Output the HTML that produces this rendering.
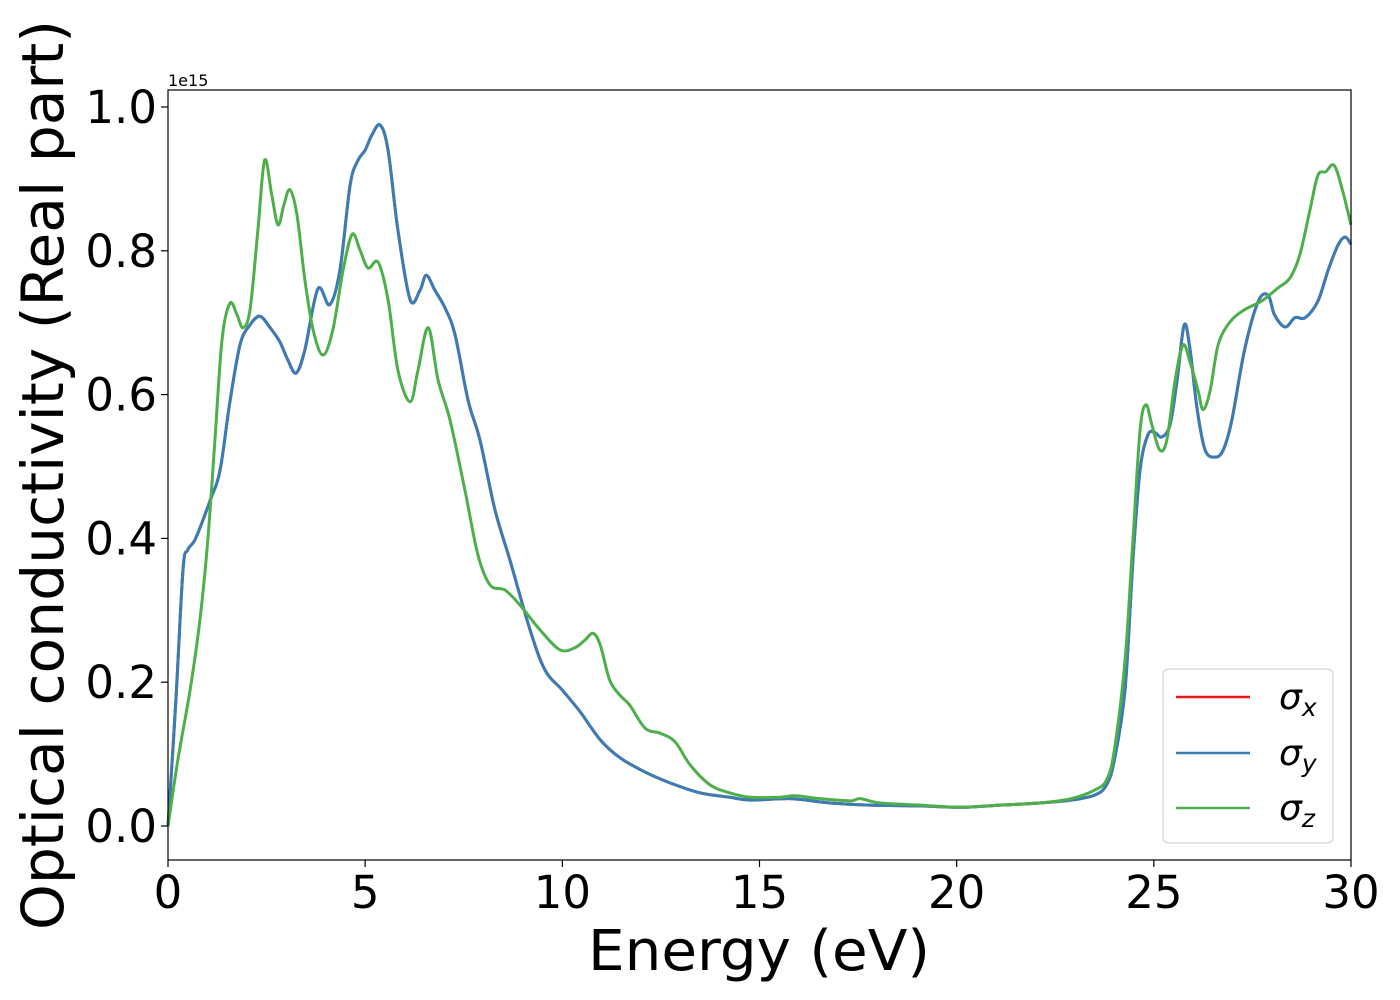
<!DOCTYPE html>
<html><head><meta charset="utf-8"><style>
html,body{margin:0;padding:0;background:#fff;}
svg{display:block;font-family:"DejaVu Sans","Liberation Sans",sans-serif;}
</style></head><body>
<svg id="chart" width="1400" height="1000" viewBox="0 0 1400 1000" xmlns="http://www.w3.org/2000/svg">
<rect x="0" y="0" width="1400" height="1000" fill="#fff"/>
<g id="series"></g>
<rect x="168" y="90" width="1183" height="770" fill="none" stroke="#000" stroke-width="1.2"/>
<g id="xticks"></g>
<g id="yticks"></g>
<text x="168" y="86" font-size="16">1e15</text>
<text x="759" y="970" font-size="56" text-anchor="middle" textLength="342" lengthAdjust="spacingAndGlyphs">Energy (eV)</text>
<text transform="translate(63,475) rotate(-90)" font-size="58" text-anchor="middle" textLength="910" lengthAdjust="spacingAndGlyphs">Optical conductivity (Real part)</text>
<g>
<rect x="1163" y="669" width="170" height="174" rx="5" fill="#fff" fill-opacity="0.8" stroke="#ccc" stroke-width="1"/>
<g><line x1="1176" y1="697" x2="1250" y2="697" stroke="#e41a1c" stroke-width="2.5"/><text x="1279" y="709" font-size="36" font-style="italic">σ<tspan font-size="25" dy="7">x</tspan></text></g>
<g><line x1="1176" y1="753" x2="1250" y2="753" stroke="#377eb8" stroke-width="2.5"/><text x="1279" y="765" font-size="36" font-style="italic">σ<tspan font-size="25" dy="7">y</tspan></text></g>
<g><line x1="1176" y1="808" x2="1250" y2="808" stroke="#4daf4a" stroke-width="2.5"/><text x="1279" y="820" font-size="36" font-style="italic">σ<tspan font-size="25" dy="7">z</tspan></text></g>
</g>
</svg>
<script>
const xTicks = [0, 5, 10, 15, 20, 25, 30];
const yTicks = [0.0, 0.2, 0.4, 0.6, 0.8, 1.0];
const yTickLabels = ["0.0", "0.2", "0.4", "0.6", "0.8", "1.0"];
const energyXY = [0,0.2,0.38,0.5,0.7,1.07,1.32,1.57,1.83,2.08,2.33,2.59,2.84,3.04,3.25,3.47,3.8,4.1,4.36,4.62,4.82,5.0,5.17,5.38,5.58,5.83,6.14,6.39,6.55,6.77,7.03,7.28,7.61,7.91,8.29,8.67,9.18,9.56,10.0,10.45,10.96,11.46,12.1,12.73,13.5,14.25,14.76,15.77,16.79,17.8,19.07,20.1,21.1,22.1,22.9,23.5,23.8,24.0,24.27,24.47,24.65,24.85,25.03,25.2,25.41,25.59,25.77,25.92,26.1,26.3,26.55,26.76,26.98,27.3,27.65,27.9,28.06,28.33,28.58,28.84,29.16,29.42,29.67,29.85,30];
const sigmaXY = [0,0.175,0.356,0.384,0.40,0.453,0.495,0.59,0.67,0.697,0.709,0.693,0.673,0.648,0.63,0.662,0.747,0.725,0.773,0.892,0.926,0.94,0.961,0.975,0.94,0.829,0.732,0.745,0.766,0.745,0.72,0.683,0.592,0.537,0.44,0.37,0.273,0.217,0.189,0.159,0.12,0.095,0.075,0.06,0.046,0.04,0.036,0.038,0.032,0.029,0.028,0.026,0.029,0.032,0.036,0.043,0.057,0.092,0.19,0.37,0.495,0.544,0.547,0.541,0.558,0.62,0.697,0.662,0.579,0.523,0.513,0.523,0.565,0.662,0.73,0.738,0.711,0.694,0.707,0.707,0.73,0.773,0.808,0.819,0.809];
const energyZ = [0,0.25,0.56,0.81,1.01,1.19,1.37,1.57,1.75,1.9,2.08,2.28,2.45,2.63,2.79,2.94,3.09,3.27,3.47,3.68,3.93,4.18,4.44,4.67,4.87,5.07,5.33,5.58,5.83,6.14,6.34,6.6,6.85,7.15,7.53,7.86,8.17,8.55,8.93,9.43,9.94,10.32,10.58,10.78,10.96,11.2,11.46,11.71,12.1,12.48,12.86,13.24,13.75,14.25,14.76,15.52,15.9,16.54,17.3,17.55,18.06,19.07,20.1,21.1,22.1,22.9,23.5,23.8,24.0,24.27,24.47,24.65,24.8,24.95,25.15,25.33,25.54,25.74,25.92,26.12,26.25,26.43,26.63,26.93,27.3,27.73,28.14,28.45,28.7,28.96,29.16,29.36,29.57,29.77,30];
const sigmaZ = [0,0.092,0.189,0.287,0.398,0.537,0.676,0.727,0.711,0.693,0.718,0.829,0.926,0.878,0.836,0.864,0.885,0.85,0.76,0.69,0.655,0.69,0.773,0.823,0.801,0.776,0.784,0.732,0.634,0.59,0.634,0.693,0.62,0.565,0.467,0.377,0.335,0.328,0.307,0.273,0.245,0.248,0.259,0.268,0.252,0.203,0.182,0.168,0.136,0.129,0.117,0.085,0.057,0.046,0.04,0.04,0.042,0.038,0.035,0.038,0.032,0.029,0.026,0.029,0.032,0.038,0.05,0.064,0.106,0.231,0.398,0.55,0.586,0.558,0.523,0.537,0.62,0.669,0.645,0.606,0.579,0.606,0.669,0.701,0.718,0.73,0.748,0.762,0.794,0.857,0.905,0.91,0.919,0.887,0.836];

const NS = "http://www.w3.org/2000/svg";
const X0 = 168, X1 = 1351, Y0 = 826, Y1 = 107;
function xScale(e){ return X0 + (e/30)*(X1-X0); }
function yScale(v){ return Y0 - v*(Y0-Y1); }

function pathFor(xs, ys){
  const p = xs.map((e,i)=>[xScale(e), yScale(ys[i])]);
  let d = "M" + p[0][0].toFixed(2) + "," + p[0][1].toFixed(2);
  for (let i=0;i<p.length-1;i++){
    const a=p[Math.max(i-1,0)], b=p[i], c=p[i+1], n=p[Math.min(i+2,p.length-1)];
    const c1x=b[0]+(c[0]-a[0])/6, c1y=b[1]+(c[1]-a[1])/6;
    const c2x=c[0]-(n[0]-b[0])/6, c2y=c[1]-(n[1]-b[1])/6;
    d += " C"+c1x.toFixed(2)+","+c1y.toFixed(2)+" "+c2x.toFixed(2)+","+c2y.toFixed(2)+" "+c[0].toFixed(2)+","+c[1].toFixed(2);
  }
  return d;
}
const sg = document.getElementById("series");
function addLine(xs, ys, color, name){
  const el = document.createElementNS(NS,"path");
  el.setAttribute("d", pathFor(xs, ys));
  el.setAttribute("fill","none");
  el.setAttribute("stroke", color);
  el.setAttribute("stroke-width","3");
  el.setAttribute("stroke-linejoin","round");
  
  
  sg.appendChild(el);
}
addLine(energyXY, sigmaXY, "#e41a1c", "line-sigma-x");
addLine(energyXY, sigmaXY, "#377eb8", "line-sigma-y");
addLine(energyZ, sigmaZ, "#4daf4a", "line-sigma-z");

const xg = document.getElementById("xticks");
xTicks.forEach(t=>{
  const x = xScale(t);
  const l = document.createElementNS(NS,"line");
  l.setAttribute("x1",x); l.setAttribute("x2",x); l.setAttribute("y1",860); l.setAttribute("y2",867);
  l.setAttribute("stroke","#000"); l.setAttribute("stroke-width","1.2");
  
  
  xg.appendChild(l);
  const tx = document.createElementNS(NS,"text");
  tx.setAttribute("x",x); tx.setAttribute("y",908); tx.setAttribute("font-size","45"); tx.setAttribute("text-anchor","middle");
  tx.textContent = String(t);
  
  
  xg.appendChild(tx);
});
const yg = document.getElementById("yticks");
yTicks.forEach((t,i)=>{
  const y = yScale(t);
  const l = document.createElementNS(NS,"line");
  l.setAttribute("x1",161); l.setAttribute("x2",168); l.setAttribute("y1",y); l.setAttribute("y2",y);
  l.setAttribute("stroke","#000"); l.setAttribute("stroke-width","1.2");
  
  
  yg.appendChild(l);
  const tx = document.createElementNS(NS,"text");
  tx.setAttribute("x",157); tx.setAttribute("y",y+16); tx.setAttribute("font-size","45"); tx.setAttribute("text-anchor","end");
  tx.textContent = yTickLabels[i];
  
  
  yg.appendChild(tx);
});
</script>
</body></html>
